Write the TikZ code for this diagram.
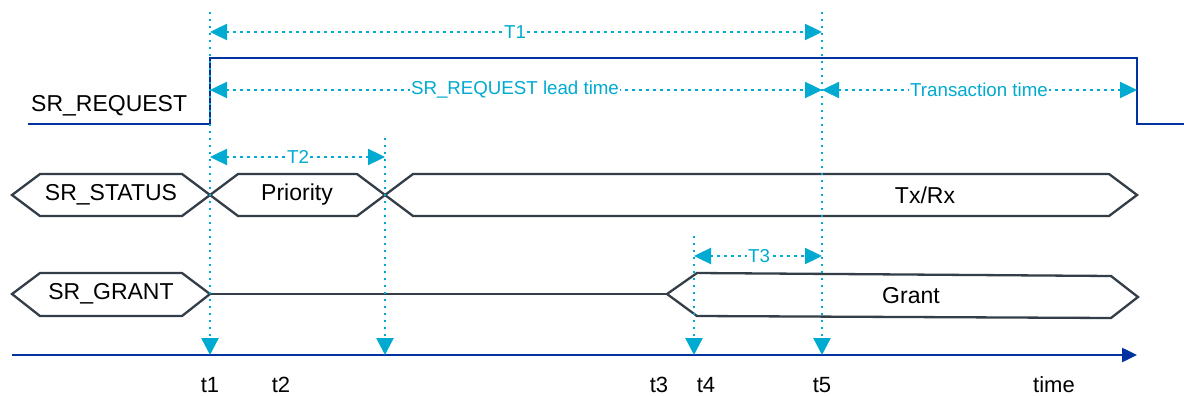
\documentclass[tikz,border=0pt]{standalone}
\usepackage{fontspec}
\setmainfont{Liberation Sans}
\usetikzlibrary{arrows.meta}
\definecolor{sigblue}{RGB}{0,51,160}
\definecolor{dimcyan}{RGB}{0,170,208}
\definecolor{hexgray}{RGB}{52,62,72}
\tikzset{
  sigline/.style={draw=sigblue,line width=2.5pt},
  hexbox/.style={draw=hexgray,line width=2.3pt,line join=miter},
  vdot/.style={draw=dimcyan,line width=2.4pt,dash pattern=on 2.4pt off 4.6pt,-{Triangle[length=17pt,width=17pt,fill=dimcyan]}},
  dimline/.style={draw=dimcyan,line width=2.4pt,dash pattern=on 2.4pt off 4.6pt,{Triangle[length=17pt,width=16pt,fill=dimcyan]}-{Triangle[length=17pt,width=16pt,fill=dimcyan]}},
  dimlbl/.style={fill=white,text=dimcyan,inner sep=1.5pt,font=\fontsize{18.7}{20}\selectfont},
  siglbl/.style={text=black,inner sep=0pt,font=\fontsize{23}{25}\selectfont},
  ticklbl/.style={text=black,inner sep=0pt,font=\fontsize{22}{25}\selectfont}
}
\begin{document}
\begin{tikzpicture}[x=1pt,y=-1pt]
\useasboundingbox[fill=white] (0,0) rectangle (1184,396);
% SR_REQUEST waveform
\coordinate (rq0) at (28,124);
\coordinate (rq1) at (210,124);
\coordinate (rq2) at (210,58);
\coordinate (rq3) at (1137,58);
\coordinate (rq4) at (1137,124);
\coordinate (rq5) at (1184,124);
\draw[sigline] (rq0) -- (rq1) -- (rq2) -- (rq3) -- (rq4) -- (rq5);
\node[siglbl,anchor=west] (reqlbl) at (31,106) {SR\_REQUEST};
% SR_STATUS row
\draw[hexbox] (12,195) -- (40,174) -- (182,174) -- (210,195) -- (182,216) -- (40,216) -- cycle;
\draw[hexbox] (210,195) -- (238,174) -- (357,174) -- (385,195) -- (357,216) -- (238,216) -- cycle;
\draw[hexbox] (385,195) -- (413,174) -- (1109,174) -- (1137,195) -- (1109,216) -- (413,216) -- cycle;
\node[siglbl] (status) at (111,195) {SR\_STATUS};
\node[siglbl] (prio) at (297,195) {Priority};
\node[siglbl] (txrx) at (925,195) {Tx/Rx};
% SR_GRANT row
\draw[hexbox] (12,294) -- (40,273) -- (182,273) -- (210,294) -- (182,316) -- (40,316) -- cycle;
\coordinate (g0) at (210,294);
\coordinate (g1) at (667,294);
\draw[hexbox] (g0) -- (g1);
\draw[hexbox] (g1) -- (697,273) -- (1111,276) -- (1138,297) -- (1111,318) -- (697,316) -- cycle;
\node[siglbl] (grantname) at (111,294) {SR\_GRANT};
\node[siglbl] (grant) at (911,296) {Grant};
% time axis
\coordinate (ax0) at (12,355);
\coordinate (ax1) at (1137,355);
\draw[sigline,-{Triangle[length=15pt,width=14pt,fill=sigblue]}] (ax0) -- (ax1);
% vertical markers
\coordinate (v1a) at (210,12);  \coordinate (v1b) at (210,355);
\coordinate (v2a) at (385,138); \coordinate (v2b) at (385,355);
\coordinate (v4a) at (694,236); \coordinate (v4b) at (694,355);
\coordinate (v5a) at (822,12);  \coordinate (v5b) at (822,355);
\draw[vdot] (v1a) -- (v1b);
\draw[vdot] (v2a) -- (v2b);
\draw[vdot] (v4a) -- (v4b);
\draw[vdot] (v5a) -- (v5b);
% dimension arrows
\coordinate (T1a) at (210,32);  \coordinate (T1b) at (822,32);
\coordinate (La) at (210,90);   \coordinate (Lb) at (822,90);
\coordinate (Ta) at (822,90);   \coordinate (Tb) at (1137,90);
\coordinate (T2a) at (210,157); \coordinate (T2b) at (385,157);
\coordinate (T3a) at (694,256); \coordinate (T3b) at (822,256);
\draw[dimline] (T1a) -- (T1b);
\draw[dimline] (La) -- (Lb);
\draw[dimline] (Ta) -- (Tb);
\draw[dimline] (T2a) -- (T2b);
\draw[dimline] (T3a) -- (T3b);
\node[dimlbl] (lT1) at (515,32) {T1};
\node[dimlbl] (lL) at (515,90) {SR\_REQUEST lead time};
\node[dimlbl] (lT) at (979,90) {Transaction time};
\node[dimlbl] (lT2) at (298,157) {T2};
\node[dimlbl] (lT3) at (759,256) {T3};
% tick labels
\node[ticklbl] (t1) at (210,385) {t1};
\node[ticklbl] (t2) at (281,385) {t2};
\node[ticklbl] (t3) at (659,385) {t3};
\node[ticklbl] (t4) at (706,385) {t4};
\node[ticklbl] (t5) at (822,385) {t5};
\node[ticklbl] (time) at (1054,385) {time};
\end{tikzpicture}
\end{document}
